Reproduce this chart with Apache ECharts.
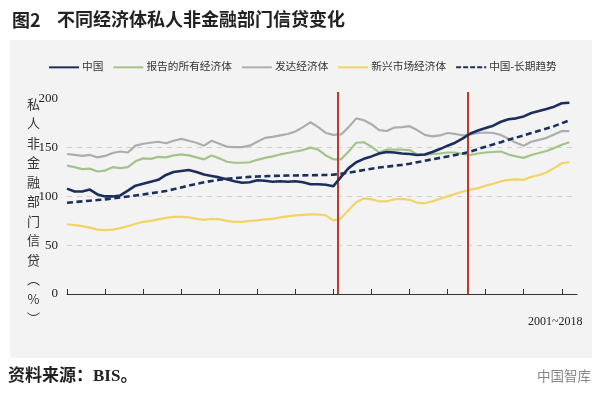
<!DOCTYPE html>
<html><head><meta charset="utf-8">
<script src="https://cdn.jsdelivr.net/npm/echarts@6/dist/echarts.min.js"></script>
<style>html,body{margin:0;padding:0;background:#fff}#c{width:600px;height:394px}</style>
</head><body><div id="c"></div>
<script>
// quarterly periods from 2001Q1
const periods = [];
for (let y = 2001; y <= 2017; y++) for (let q = 1; q <= 4; q++) periods.push(y + 'Q' + q);

const seriesNames = ['中国', '报告的所有经济体', '发达经济体', '新兴市场经济体', '中国-长期趋势'];
const china = [108,105,105,107,102,100,100,101,106,111,113,115,117,122,125,126,127,125,122.5,121,119.5,117.5,115.5,114,114.5,116.5,116,115,115.5,115,115.5,114.5,112.5,112.5,112,110.5,120,129,135,138.5,141,144,145.5,145,144,143.5,142.5,143,145.5,148.5,152,155,159.5,164.5,167.5,170,172.5,176.5,179,180,182,185.5,187.5,189.5,192,195.5,196];
const allReporting = [131.5,130,128,128.5,125.5,126.5,130,129,130,136,139,138.5,140.5,140,142,143,142,140,138,142,139,135.5,134.5,134.5,135,137.5,139.5,141,143,144.5,146,147.5,150,148,142,138,138,146,155,155.5,151,145,148,148,148,147.5,143,142.5,143.5,144,145,145,143.5,142.5,144,145,145.5,146,143,141,139.5,142.5,144.5,146.5,149.5,153,155.5];
const advanced = [143.5,142.5,141.5,142.5,140,141.5,144.5,146,145,152,154,155,156,154.5,157,159,157,155,152,157,154,151,150.5,150.5,152,156,160,161,162.5,164,166.5,171,176,171,165,163,163.5,171,180,178,174,168,167,170.5,171,172,168,163,161.5,162.5,165,164,162.5,163.5,165,165.5,165,163,159,155,152,156,158,160,163.5,167,167];
const emerging = [71.5,70.5,69.5,68,66,65.5,66,67.5,69.5,72,74,75,76.5,78,79,79,78.5,77,76,77,76.5,75,74,74,75,75.5,76.5,77,78.5,79.5,80.5,81,81.5,81.5,80.5,75.5,77.5,86,94,98,97,95,95,97,97.5,96.5,93.5,93,95,97.5,100,102.5,105,107,108.5,111,113,115.5,117,117.5,117,120,122,124.5,129,134,135];
const chinaTrend = [93.5,94.2,94.9,95.6,96.3,97,98,99,100,101,102,103.2,104.4,105.6,107.4,109.2,111,112.8,114.5,115.8,117,118,118.8,119.4,120,120.4,120.7,121,121.2,121.4,121.5,121.6,121.7,121.8,122,122.3,123.2,124.4,125.7,127,128.3,129.6,130.5,131.4,132.3,133.5,135,136.5,138,139.5,141,142.5,144,146,148.5,151,153.3,155.6,158,160.3,162.6,164.9,167.2,169.5,172,175,178];
const yTicks = [0, 50, 100, 150, 200];
const yTop = 207;               // axis extent above the last tick (red markers reach this height)
const breakPositions = [35.6, 52.6]; // positions of the two red vertical markers (in quarter index units)

const colors = ['#1c2f5c', '#a3c38a', '#adadad', '#f1d366', '#1c2f5c'];
const serif = "'Liberation Serif','Noto Sans CJK SC',serif";
const cjk = "'Noto Sans CJK SC',sans-serif";

const chart = echarts.init(document.getElementById('c'), null, {renderer: 'canvas'});
const dataSets = [china, allReporting, advanced, emerging, chinaTrend];
const series = dataSets.map((d, k) => ({
  name: seriesNames[k], type: 'line', data: d, symbol: 'none', smooth: false,
  xAxisIndex: 0, yAxisIndex: 0,
  lineStyle: {color: colors[k], width: k === 0 ? 2.6 : (k === 4 ? 2.6 : 2.2), type: k === 4 ? [6, 3.5] : 'solid'},
  itemStyle: {color: colors[k]},
  z: k === 0 ? 5 : (k === 4 ? 4 : 3)
}));
series.push({
  type: 'line', data: breakPositions.map(p => [p, null]), xAxisIndex: 1, yAxisIndex: 0,
  silent: true, z: 6, symbol: 'none', lineStyle: {opacity: 0},
  markLine: {
    symbol: 'none', silent: true, label: {show: false}, animation: false,
    lineStyle: {color: '#c0392b', width: 2, type: 'solid'},
    data: breakPositions.map(p => [{coord: [p, 0]}, {coord: [p, yTop]}])
  }
});

const dashIcon = 'path://M0,4 L5,4 L5,6 L0,6 Z M7,4 L12,4 L12,6 L7,6 Z M14,4 L19,4 L19,6 L14,6 Z M21,4 L26,4 L26,6 L21,6 Z M28,4 L30,4 L30,6 L28,6 Z';

chart.setOption({
  backgroundColor: '#ffffff',
  animation: false,
  color: colors,
  graphic: [
    {type: 'rect', z: -10, shape: {x: 10, y: 40, width: 582, height: 318}, style: {fill: '#f3f3f4'}},
    {type: 'text', left: 12, top: 11, style: {text: '图2', font: "bold 18px " + cjk, fill: '#222'}},
    {type: 'text', left: 57, top: 10, style: {text: '不同经济体私人非金融部门信贷变化', font: "bold 18px " + cjk, fill: '#222'}},
    {type: 'text', left: 8, top: 368, style: {text: '资料来源：BIS。', font: "bold 17px " + serif, fill: '#222'}},
    {type: 'text', left: 537, top: 369, style: {text: '中国智库', font: "13.5px " + cjk, fill: '#888'}},
    {type: 'text', left: 528, top: 316, style: {text: '2001~2018', font: "12px " + serif, fill: '#222'}},
    {type: 'text', x: 33.5, y: 94, style: {text: '私\n人\n非\n金\n融\n部\n门\n信\n贷\n︵\n%\n︶', font: "13px " + cjk, fill: '#333', align: 'center', lineHeight: 19.5}}
  ],
  legend: {
    left: 44, top: 57, itemWidth: 30, itemHeight: 10, itemGap: 10,
    icon: 'path://M0,4 L30,4 L30,6 L0,6 Z',
    textStyle: {fontFamily: serif, fontSize: 10.7, color: '#333', padding: [0, 0, 0, -2]},
    data: seriesNames.map((n, k) => k === 4 ? {name: n, icon: dashIcon} : n)
  },
  grid: {left: 67, right: 23, top: 92, bottom: 100, containLabel: false},
  xAxis: [{
    type: 'category', data: periods, boundaryGap: false,
    axisLine: {lineStyle: {color: '#333', width: 1}},
    axisTick: {show: true, inside: true, length: 5, interval: 4, lineStyle: {color: '#333'}},
    axisLabel: {show: false}, splitLine: {show: false}
  }, {
    type: 'value', min: 0, max: periods.length - 1, show: false
  }],
  yAxis: {
    type: 'value', min: yTicks[0], max: yTop, interval: 50,
    axisLine: {show: false}, axisTick: {show: false},
    axisLabel: {fontFamily: serif, fontSize: 13, color: '#222', margin: 9, showMaxLabel: false,
      formatter: v => (yTicks.indexOf(v) >= 0 ? String(v) : '')},
    splitLine: {show: true, lineStyle: {color: ['transparent', '#cfcfcf', '#cfcfcf', '#cfcfcf', 'transparent', 'transparent'], type: [5, 5], width: 1}}
  },
  series: series
});
</script>
</body></html>
